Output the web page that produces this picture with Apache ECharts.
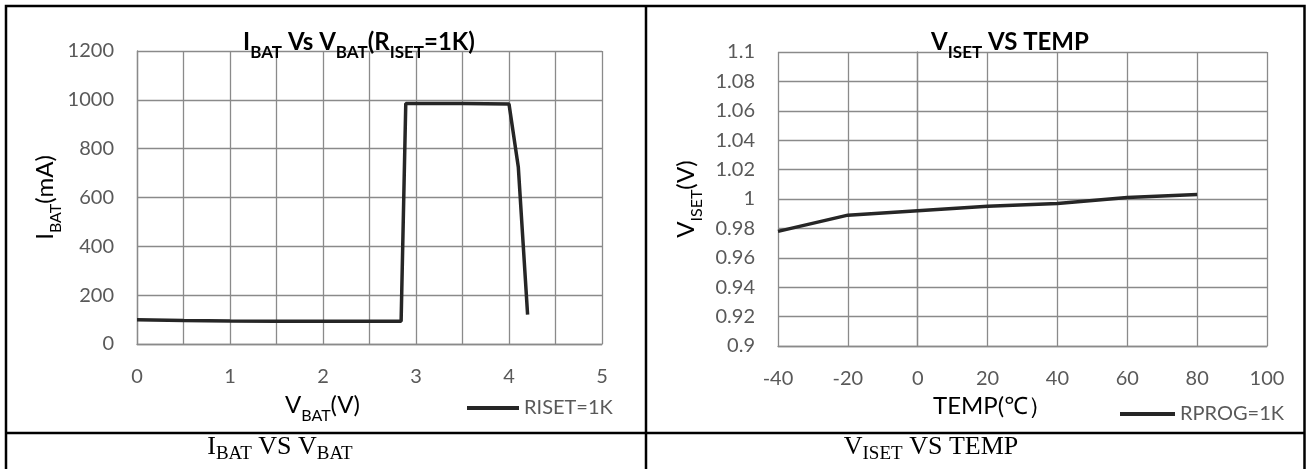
<!DOCTYPE html>
<html>
<head>
<meta charset="utf-8">
<script src="https://cdn.jsdelivr.net/npm/echarts@6/dist/echarts.min.js"></script>
<style>
html,body{margin:0;padding:0;background:#fff;}
#chart{width:1310px;height:469px;}
</style>
</head>
<body>
<div id="chart"></div>
<script>
// ---- data ----
const vbat = [0, 0.5, 1, 1.5, 2, 2.5, 2.84, 2.86, 2.89, 3.5, 4.0, 4.1, 4.2];
const ibat = [99, 96, 94, 93, 93, 93, 93, 86, 985, 985, 983, 725, 120];
const temps = [-40, -20, 0, 20, 40, 60, 80];
const viset = [0.978, 0.989, 0.992, 0.995, 0.997, 1.001, 1.003];
const seriesNames = ['RISET=1K', 'RPROG=1K'];

const FONT = 'Lato, "Noto Sans", sans-serif';
const SERIF = '"Liberation Serif", "DejaVu Serif", serif';
const GRAY = '#595959';
const GRID = '#8a8a8a';
const LINE = '#262626';

function richStyles(fm, fs, drop, weight, family, color) {
  const P = 0.925 * fm + drop - 0.8 * fs;
  return {
    m: {fontSize: fm, lineHeight: fm * 1.25, verticalAlign: 'top', fontWeight: weight, fontFamily: family, color: color},
    s: {fontSize: fs, lineHeight: fs, verticalAlign: 'top', padding: [P, 0, 0, 0], fontWeight: weight, fontFamily: family, color: color}
  };
}

const titleRich = richStyles(24, 17, 5, 'bold', FONT, '#000');
const nameRich = richStyles(24, 16, 5, 'normal', FONT, '#000');
const capRich = richStyles(26, 19, 2, 'normal', SERIF, '#000');

function valueAxisCommon() {
  return {
    type: 'value',
    axisLine: {show: true, lineStyle: {color: GRID, width: 1.3}},
    axisTick: {show: false},
    splitLine: {show: true, lineStyle: {color: GRID, width: 1.3}},
    axisLabel: {color: GRAY, fontSize: 20, fontFamily: FONT}
  };
}

const option = {
  animation: false,
  backgroundColor: '#fff',
  title: [
    {text: '{m|I}{s|BAT}{m| Vs V}{s|BAT}{m|(R}{s|ISET}{m|=1K)}', left: 359, top: 30, textAlign: 'center', padding: 0,
     textStyle: {rich: titleRich}},
    {text: '{m|V}{s|ISET}{m| VS TEMP}', left: 1010, top: 30, textAlign: 'center', padding: 0,
     textStyle: {rich: titleRich}},
    {text: '{m|I}{s|BAT}{m| VS V}{s|BAT}', left: 280, top: 434, textAlign: 'center', padding: 0,
     textStyle: {rich: capRich}},
    {text: '{m|V}{s|ISET}{m| VS TEMP}', left: 931, top: 434, textAlign: 'center', padding: 0,
     textStyle: {rich: capRich}}
  ],
  legend: [
    {data: [seriesNames[0]], left: 467, top: 398, icon: 'rect', itemWidth: 52, itemHeight: 4, padding: 0,
     textStyle: {color: GRAY, fontSize: 20, fontFamily: FONT}, itemStyle: {color: LINE}},
    {data: [seriesNames[1]], left: 1120, top: 404, icon: 'rect', itemWidth: 55, itemHeight: 4, padding: 0,
     textStyle: {color: GRAY, fontSize: 20, fontFamily: FONT}, itemStyle: {color: LINE}}
  ],
  grid: [
    {left: 137, top: 51, width: 465, height: 293, containLabel: false},
    {left: 778, top: 52, width: 489, height: 294, containLabel: false}
  ],
  xAxis: [
    Object.assign(valueAxisCommon(), {
      gridIndex: 0, min: 0, max: 5, interval: 0.5,
      axisLabel: {color: GRAY, fontSize: 20, fontFamily: FONT, margin: 23,
        formatter: v => (Math.abs(v - Math.round(v)) < 1e-6 ? String(Math.round(v)) : '')},
      name: '{m|V}{s|BAT}{m|(V)}', nameLocation: 'middle', nameGap: 49,
      nameTextStyle: {rich: nameRich, padding: [0, 94, 0, 0]}
    }),
    Object.assign(valueAxisCommon(), {
      gridIndex: 1, min: -40, max: 100, interval: 20,
      axisLabel: {color: GRAY, fontSize: 20, fontFamily: FONT, margin: 23},
      name: '{m|TEMP(℃）}', nameLocation: 'middle', nameGap: 47,
      nameTextStyle: {rich: nameRich, padding: [0, 60, 0, 0]}
    })
  ],
  yAxis: [
    Object.assign(valueAxisCommon(), {
      gridIndex: 0, min: 0, max: 1200, interval: 200,
      axisLabel: {color: GRAY, fontSize: 20, fontFamily: FONT, margin: 23,
        formatter: v => String(v)},
      name: '{m|I}{s|BAT}{m|(mA)}', nameLocation: 'middle', nameGap: 64,
      nameTextStyle: {rich: nameRich}
    }),
    Object.assign(valueAxisCommon(), {
      gridIndex: 1, min: 0.9, max: 1.1, interval: 0.02,
      axisLabel: {color: GRAY, fontSize: 20, fontFamily: FONT, margin: 23,
        formatter: v => String(+v.toFixed(2))},
      name: '{m|V}{s|ISET}{m|(V)}', nameLocation: 'middle', nameGap: 74,
      nameTextStyle: {rich: nameRich}
    })
  ],
  series: [
    {name: seriesNames[0], type: 'line', xAxisIndex: 0, yAxisIndex: 0, showSymbol: false, symbol: 'none',
     lineStyle: {color: LINE, width: 3.5}, itemStyle: {color: LINE},
     data: vbat.map((x, i) => [x, ibat[i]])},
    {name: seriesNames[1], type: 'line', xAxisIndex: 1, yAxisIndex: 1, showSymbol: false, symbol: 'none',
     lineStyle: {color: LINE, width: 3.5}, itemStyle: {color: LINE},
     data: temps.map((x, i) => [x, viset[i]])}
  ],
  graphic: [
    {type: 'rect', shape: {x: 6, y: 6, width: 1298.5, height: 470}, style: {fill: null, stroke: '#000', lineWidth: 2.5}, silent: true},
    {type: 'line', shape: {x1: 6, y1: 433, x2: 1304.5, y2: 433}, style: {stroke: '#000', lineWidth: 2.5}, silent: true},
    {type: 'line', shape: {x1: 646, y1: 6, x2: 646, y2: 469}, style: {stroke: '#000', lineWidth: 2.5}, silent: true}
  ]
};

const chart = echarts.init(document.getElementById('chart'), null, {renderer: 'canvas'});
chart.setOption(option);
</script>
</body>
</html>
